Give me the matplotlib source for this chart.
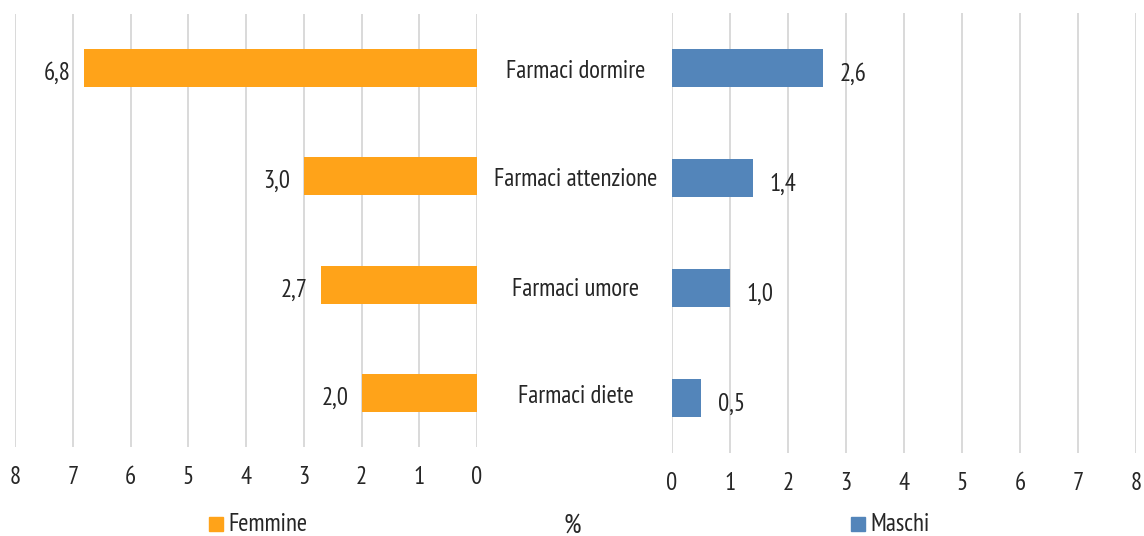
import matplotlib
matplotlib.use("Agg")
import matplotlib.pyplot as plt
from matplotlib import font_manager as fm
from matplotlib.patches import Rectangle

categories = ["Farmaci dormire", "Farmaci attenzione", "Farmaci umore", "Farmaci diete"]
femmine = [6.8, 3.0, 2.7, 2.0]
maschi = [2.6, 1.4, 1.0, 0.5]
ticks = [0, 1, 2, 3, 4, 5, 6, 7, 8]

names = {f.name for f in fm.fontManager.ttflist}
family = "DejaVu Sans"
for cand in ["Liberation Sans Narrow", "PT Sans Narrow", "Barlow Condensed", "Roboto Condensed"]:
    if cand in names:
        family = cand
        break
plt.rcParams["font.family"] = family

orange = "#FFA319"
blue = "#5385BA"
grid = "#D9D9D9"
txt = "#262626"
fs = 17.8

W, H = 11.44, 5.36
fig = plt.figure(figsize=(W, H), dpi=100)

def fx(px):
    return px / 1144

def fy(py):
    return 1 - py / 536

def ax_rect(x0, y0, x1, y1):
    return [fx(x0), fy(y1), (x1 - x0) / 1144, (y1 - y0) / 536]

axL = fig.add_axes(ax_rect(15, 14, 477, 447))
axR = fig.add_axes(ax_rect(672, 13, 1136, 453))

n = len(categories)
ypos = list(range(n))

for ax, vals, col in [(axL, femmine, orange), (axR, maschi, blue)]:
    ax.barh(ypos, vals, height=0.35, color=col, zorder=3)
    ax.set_xlim(0, 8)
    ax.set_ylim(n - 0.5, -0.5)
    ax.set_xticks(ticks)
    ax.set_xticklabels([str(t) for t in ticks], fontsize=fs, color=txt)
    ax.tick_params(axis="x", length=0, pad=14)
    ax.set_yticks([])
    for s in ax.spines.values():
        s.set_visible(False)
    ax.grid(axis="x", color=grid, linewidth=1.4, zorder=0)

axL.invert_xaxis()

def fmt(v):
    return f"{v:.1f}".replace(".", ",")

for i, v in enumerate(femmine):
    axL.annotate(fmt(v), (v, i), xytext=(-9.5, -8.5), textcoords="offset points",
                 ha="right", va="baseline", fontsize=fs, color=txt)
for i, v in enumerate(maschi):
    axR.annotate(fmt(v), (v, i), xytext=(12, -9), textcoords="offset points",
                 ha="left", va="baseline", fontsize=fs, color=txt)

cat_base = [78, 186, 296, 403]
for c, yy in zip(categories, cat_base):
    fig.text(fx(575.5), fy(yy), c, ha="center", va="baseline", fontsize=fs, color=txt)

def legend_item(x, label, col):
    fig.patches.append(Rectangle((fx(x), fy(531)), 14 / 1144, 14 / 536,
                                 transform=fig.transFigure, color=col))
    fig.text(fx(x + 19), fy(531), label, ha="left", va="baseline", fontsize=fs, color=txt)

legend_item(209, "Femmine", orange)
legend_item(851, "Maschi", blue)
fig.text(fx(572), fy(533), "%", ha="center", va="baseline", fontsize=fs + 2, color=txt)

fig.savefig("out.png", dpi=100)
